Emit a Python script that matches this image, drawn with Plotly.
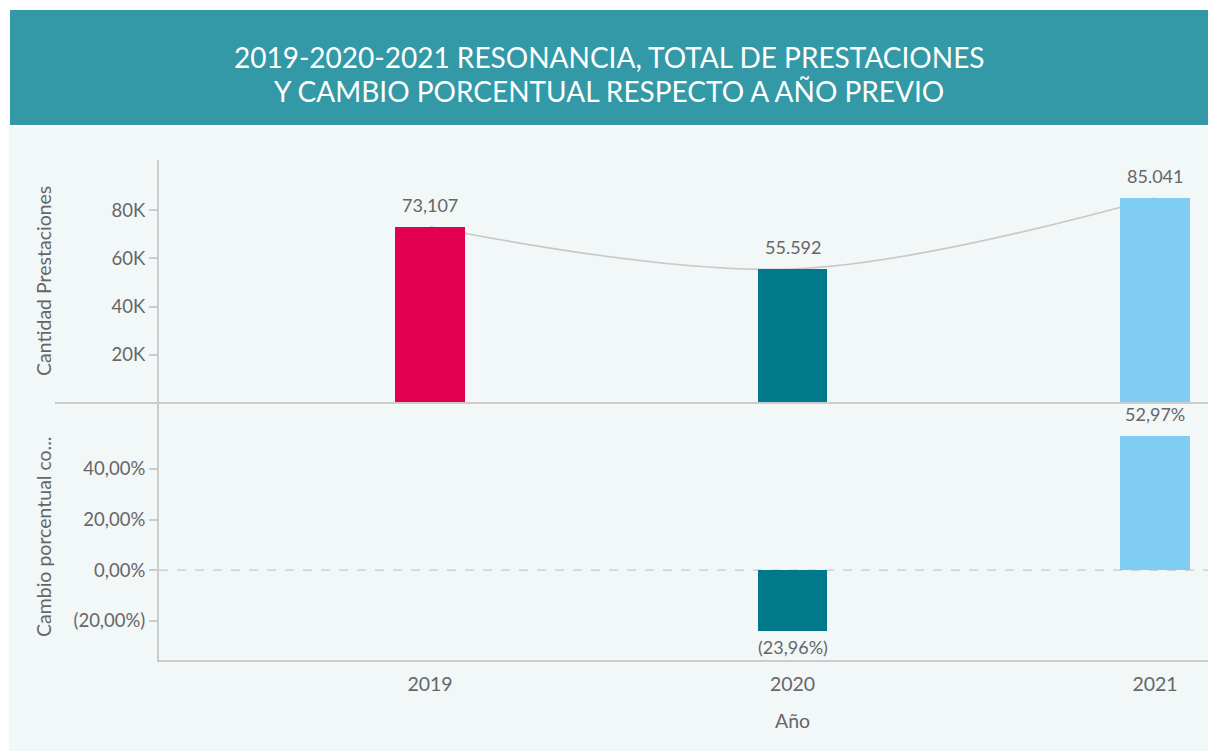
import plotly.graph_objects as go

# ---- data ----
years = ["2019", "2020", "2021"]
prestaciones = [73107, 55592, 85041]
prestaciones_labels = ["73,107", "55.592", "85.041"]
cambio_pct = [None, -23.96, 52.97]
cambio_labels = [None, "(23,96%)", "52,97%"]
bar_colors = ["#E3004F", "#007A8A", "#80CDF2"]
y1_ticks = [20000, 40000, 60000, 80000]
y1_ticktext = ["20K", "40K", "60K", "80K"]
y2_ticks = [-20, 0, 20, 40]
y2_ticktext = ["(20,00%)", "0,00%", "20,00%", "40,00%"]
title_lines = ["2019-2020-2021 RESONANCIA, TOTAL DE PRESTACIONES",
               "Y CAMBIO PORCENTUAL RESPECTO A AÑO PREVIO"]

# body margin removed via post_script, figure covers the full page
W, H = 1208, 751
def px_x(p): return p / W
def px_y(p): return (H - p) / H

FONT = "Lato, 'Open Sans', sans-serif"
TXT = "#666666"
AX = "#cccccc"

xs = list(range(len(years)))

fig = go.Figure()
# smooth trend line (behind bars)
fig.add_trace(go.Scatter(x=xs, y=prestaciones, mode="lines",
                         line=dict(color="#c8c8c8", width=1.6, shape="spline"),
                         xaxis="x", yaxis="y", hoverinfo="skip", showlegend=False))
# top bars on overlaying axis so they are drawn over the line
fig.add_trace(go.Bar(x=xs, y=prestaciones, marker=dict(color=bar_colors, line=dict(width=0)),
                     width=0.193, xaxis="x", yaxis="y3", hoverinfo="skip", showlegend=False))
# bottom bars
fig.add_trace(go.Bar(x=xs, y=cambio_pct, marker=dict(color=bar_colors, line=dict(width=0)),
                     width=0.193, xaxis="x", yaxis="y2", hoverinfo="skip", showlegend=False))

LBL = 18
annotations = []
for i, (v, t) in enumerate(zip(prestaciones, prestaciones_labels)):
    annotations.append(dict(x=xs[i], y=v, xref="x", yref="y3", text=t, showarrow=False,
                            xanchor="center", yanchor="bottom", yshift=9,
                            font=dict(family=FONT, size=LBL, color=TXT)))
for i, (v, t) in enumerate(zip(cambio_pct, cambio_labels)):
    if v is None:
        continue
    annotations.append(dict(x=xs[i], y=v, xref="x", yref="y2", text=t, showarrow=False,
                            xanchor="center", yanchor="bottom" if v >= 0 else "top",
                            yshift=9 if v >= 0 else -3,
                            font=dict(family=FONT, size=LBL, color=TXT)))
# titles
tx = (px_x(10) + 1) / 2
for line, yc in zip(title_lines, [57, 91]):
    annotations.append(dict(x=tx, y=px_y(yc), xref="paper", yref="paper", text=line,
                            xanchor="center", yanchor="middle", showarrow=False,
                            font=dict(family=FONT, size=28, color="white")))
# axis titles
annotations.append(dict(x=px_x(43), y=px_y(281), xref="paper", yref="paper", text="Cantidad Prestaciones",
                        textangle=-90, xanchor="center", yanchor="middle", showarrow=False,
                        font=dict(family=FONT, size=19.5, color=TXT)))
annotations.append(dict(x=px_x(43), y=px_y(537), xref="paper", yref="paper", text="Cambio porcentual co...",
                        textangle=-90, xanchor="center", yanchor="middle", showarrow=False,
                        font=dict(family=FONT, size=19.5, color=TXT)))
annotations.append(dict(x=1, y=px_y(720), xref="x", yref="paper", text="Año", showarrow=False,
                        xanchor="center", yanchor="middle",
                        font=dict(family=FONT, size=19.5, color=TXT)))

shapes = [
    dict(type="rect", xref="paper", yref="paper", x0=px_x(9), x1=1, y0=0, y1=px_y(127),
         fillcolor="#F2F7F8", line=dict(width=0), layer="below"),
    dict(type="rect", xref="paper", yref="paper", x0=px_x(10), x1=1, y0=px_y(125), y1=px_y(10),
         fillcolor="#3399A7", line=dict(width=0), layer="below"),
    dict(type="line", xref="paper", yref="paper", x0=px_x(55), x1=1, y0=px_y(403), y1=px_y(403),
         line=dict(color=AX, width=2)),
    dict(type="line", xref="paper", yref="y2", x0=px_x(159), x1=1, y0=0, y1=0,
         line=dict(color="#c8c8c8", width=1.3, dash="dash"), layer="below"),
]

top_dom = [px_y(403), px_y(160)]
bot_dom = [px_y(660), px_y(403)]
y1_range = [0, 100800]
# x-range so categories land at the reference positions (430, 793, 1155)
x_dom = [px_x(159), 1]
step = (1155 - 430) / 2
x_range = [-(430 - 159) / step, 2 + (1208 - 1155) / step]

TICK = 18.5
fig.update_layout(
    width=W, height=H, margin=dict(l=0, r=0, t=0, b=0),
    paper_bgcolor="white", plot_bgcolor="rgba(0,0,0,0)",
    bargap=0, showlegend=False, hovermode=False,
    font=dict(family=FONT, color=TXT),
    xaxis=dict(domain=x_dom, range=x_range, anchor="y2",
               tickmode="array", tickvals=xs, ticktext=years, showgrid=False, zeroline=False,
               showline=True, linecolor=AX, linewidth=2, ticks="outside", ticklen=6,
               tickcolor="rgba(0,0,0,0)", tickfont=dict(size=19.5, color=TXT)),
    yaxis=dict(domain=top_dom, range=y1_range, anchor="x", tickmode="array", tickvals=y1_ticks,
               ticktext=y1_ticktext, showgrid=False, zeroline=False, showline=True, linecolor=AX,
               linewidth=2, ticks="outside", ticklen=8, tickcolor=AX, tickwidth=1.5,
               tickfont=dict(size=TICK, color=TXT)),
    yaxis3=dict(overlaying="y", range=y1_range, visible=False, anchor="x"),
    yaxis2=dict(domain=bot_dom, range=[-35.6, 66.1], anchor="x", tickmode="array", tickvals=y2_ticks,
                ticktext=y2_ticktext, showgrid=False, zeroline=False, showline=True, linecolor=AX,
                linewidth=2, ticks="outside", ticklen=8, tickcolor=AX, tickwidth=1.5,
                tickfont=dict(size=TICK, color=TXT)),
    annotations=annotations, shapes=shapes,
)

fig.write_html("out.html", config={"displayModeBar": False},
               post_script="document.body.style.margin='0';document.body.style.overflow='hidden';")
